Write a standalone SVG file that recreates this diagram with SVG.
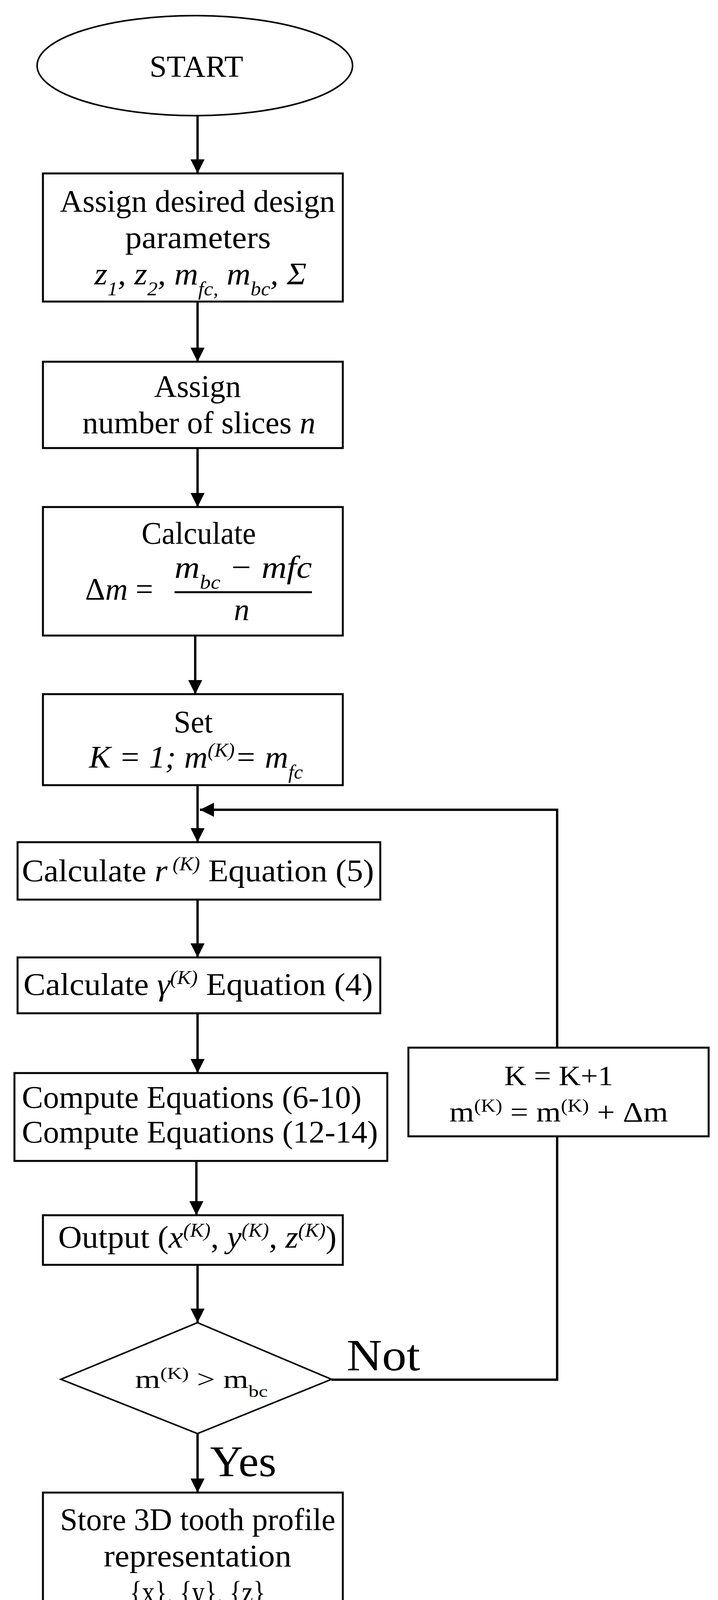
<svg xmlns="http://www.w3.org/2000/svg" width="1839" height="4561" viewBox="0 0 1839 4561">
<style>
text{font-family:"Liberation Serif","Times New Roman",serif;fill:#000}
.t{font-size:80px}
.c{text-anchor:middle}
.i{font-style:italic}
.box{fill:#fff;stroke:#000;stroke-width:5}
.ell{fill:#fff;stroke:#000;stroke-width:4}
.ln{fill:none;stroke:#000;stroke-width:6}
.sup{font-size:50px}
</style>
<defs>
<marker id="ah" markerUnits="userSpaceOnUse" markerWidth="40" markerHeight="40" viewBox="0 0 40 40" refX="36" refY="20" orient="auto">
<path d="M0,2 L36,20 L0,38 Z" fill="#000"/>
</marker>
</defs>
<rect width="1839" height="4561" fill="#fff"/>
<g id="connectors">
<line class="ln" x1="506" y1="296" x2="506" y2="444" marker-end="url(#ah)"/>
<line class="ln" x1="506" y1="772" x2="506" y2="926" marker-end="url(#ah)"/>
<line class="ln" x1="506" y1="1147" x2="506" y2="1298" marker-end="url(#ah)"/>
<line class="ln" x1="500" y1="1627" x2="500" y2="1777" marker-end="url(#ah)"/>
<line class="ln" x1="506" y1="2010" x2="506" y2="2156" marker-end="url(#ah)"/>
<polyline class="ln" points="1427,2682 1427,2073 512,2073" marker-end="url(#ah)"/>
<line class="ln" x1="506" y1="2303" x2="506" y2="2451" marker-end="url(#ah)"/>
<line class="ln" x1="506" y1="2594" x2="506" y2="2747" marker-end="url(#ah)"/>
<line class="ln" x1="503" y1="2972" x2="503" y2="3111" marker-end="url(#ah)"/>
<line class="ln" x1="506" y1="3238" x2="506" y2="3386" marker-end="url(#ah)"/>
<polyline class="ln" points="849,3532 1427,3532 1427,2909"/>
<line class="ln" x1="506" y1="3670" x2="506" y2="3821" marker-end="url(#ah)"/>
<line class="ln" x1="506" y1="4146" x2="506" y2="4274" marker-end="url(#ah)"/>
<text x="888" y="3508" style="font-size:115px" textLength="188" lengthAdjust="spacingAndGlyphs">Not</text>
<text x="538" y="3779" style="font-size:112px" textLength="170" lengthAdjust="spacingAndGlyphs">Yes</text>
</g>
<g id="start">
<ellipse class="ell" cx="499" cy="168" rx="404" ry="128"/>
<text class="c" x="503" y="196" style="font-size:78px" textLength="240" lengthAdjust="spacingAndGlyphs">START</text>
</g>
<g id="assign-params">
<rect class="box" x="110" y="444" width="768" height="328"/>
<text class="t c" x="506" y="542" textLength="705" lengthAdjust="spacingAndGlyphs">Assign desired design</text>
<text class="t c" x="507" y="635" textLength="373" lengthAdjust="spacingAndGlyphs">parameters</text>
<text class="t i" x="242" y="728" textLength="543" lengthAdjust="spacingAndGlyphs">z<tspan class="sup" baseline-shift="sub">1</tspan>, z<tspan class="sup" baseline-shift="sub">2</tspan>, m<tspan class="sup" baseline-shift="sub">fc,</tspan> m<tspan class="sup" baseline-shift="sub">bc</tspan>, Σ</text>
</g>
<g id="assign-slices">
<rect class="box" x="110" y="926" width="768" height="221"/>
<text class="t c" x="506" y="1016">Assign</text>
<text class="t" x="211" y="1109" textLength="597" lengthAdjust="spacingAndGlyphs">number of slices <tspan class="i">n</tspan></text>
</g>
<g id="calc-dm">
<rect class="box" x="110" y="1298" width="768" height="329"/>
<text class="t c" x="509" y="1392" textLength="293" lengthAdjust="spacingAndGlyphs">Calculate</text>
<text class="t" x="218" y="1535">Δ<tspan class="i">m</tspan> =</text>
<text class="t i" x="447" y="1479" textLength="352" lengthAdjust="spacingAndGlyphs">m<tspan class="sup" baseline-shift="sub">bc</tspan> − mfc</text>
<line x1="447" y1="1516" x2="799" y2="1516" stroke="#000" stroke-width="5"/>
<text class="t i c" x="619" y="1587">n</text>
</g>
<g id="set-k">
<rect class="box" x="110" y="1777" width="768" height="233"/>
<text class="t c" x="495" y="1875" textLength="100" lengthAdjust="spacingAndGlyphs">Set</text>
<text class="t i" x="228" y="1965" textLength="548" lengthAdjust="spacingAndGlyphs">K = 1; m<tspan class="sup" baseline-shift="super">(K)</tspan>= m<tspan class="sup" baseline-shift="sub">fc</tspan></text>
</g>
<g id="calc-r">
<rect class="box" x="45" y="2156" width="929" height="147"/>
<text class="t" x="56" y="2256" textLength="902" lengthAdjust="spacingAndGlyphs">Calculate <tspan class="i">r</tspan><tspan class="sup i" baseline-shift="super"> (K)</tspan>  Equation (5)</text>
</g>
<g id="calc-gamma">
<rect class="box" x="45" y="2451" width="929" height="143"/>
<text class="t" x="60" y="2547" textLength="895" lengthAdjust="spacingAndGlyphs">Calculate <tspan class="i">γ</tspan><tspan class="sup i" baseline-shift="super">(K)</tspan>  Equation (4)</text>
</g>
<g id="compute">
<rect class="box" x="37" y="2747" width="955" height="225"/>
<text class="t" x="56" y="2836" textLength="870" lengthAdjust="spacingAndGlyphs">Compute Equations (6-10)</text>
<text class="t" x="56" y="2925" textLength="912" lengthAdjust="spacingAndGlyphs">Compute Equations (12-14)</text>
</g>
<g id="output">
<rect class="box" x="110" y="3111" width="768" height="127"/>
<text class="t" x="149" y="3194" textLength="713" lengthAdjust="spacingAndGlyphs">Output (<tspan class="i">x</tspan><tspan class="sup i" baseline-shift="super">(K)</tspan>, <tspan class="i">y</tspan><tspan class="sup i" baseline-shift="super">(K)</tspan>, <tspan class="i">z</tspan><tspan class="sup i" baseline-shift="super">(K)</tspan>)</text>
</g>
<g id="decision">
<polygon points="506,3386 849,3531 506,3670 156,3531" fill="#fff" stroke="#000" stroke-width="4"/>
<text x="346" y="3553" style="font-size:66px" textLength="340" lengthAdjust="spacingAndGlyphs">m<tspan style="font-size:42px" baseline-shift="super">(K)</tspan> &gt; m<tspan style="font-size:42px" baseline-shift="sub">bc</tspan></text>
</g>
<g id="increment">
<rect class="box" x="1046" y="2682" width="769" height="227"/>
<text class="c" x="1431" y="2778" style="font-size:72px" textLength="279" lengthAdjust="spacingAndGlyphs">K = K+1</text>
<text class="c" x="1431" y="2871" style="font-size:72px" textLength="560" lengthAdjust="spacingAndGlyphs">m<tspan style="font-size:46px" baseline-shift="super">(K)</tspan> = m<tspan style="font-size:46px" baseline-shift="super">(K)</tspan> + Δm</text>
</g>
<g id="store">
<rect class="box" x="110" y="3821" width="768" height="325"/>
<text class="t" x="154" y="3917" textLength="705" lengthAdjust="spacingAndGlyphs">Store 3D tooth profile</text>
<text class="t c" x="506" y="4010" textLength="481" lengthAdjust="spacingAndGlyphs">representation</text>
<text class="t c" x="506" y="4103" textLength="347" lengthAdjust="spacingAndGlyphs">{x}, {y}, {z}</text>
</g>
<g id="stop">
<ellipse class="ell" cx="499" cy="4400" rx="404" ry="126"/>
<text class="c" x="504" y="4426" style="font-size:78px" textLength="190" lengthAdjust="spacingAndGlyphs">STOP</text>
</g>
</svg>
